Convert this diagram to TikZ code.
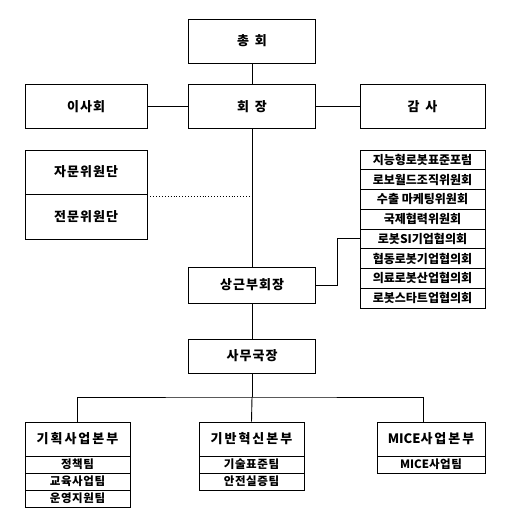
\documentclass[tikz,border=0pt]{standalone}
\usepackage{fontspec}
\newfontfamily\kr{Noto Sans CJK KR}
\usetikzlibrary{positioning}
\tikzset{
  unit/.style={draw, line width=0.9pt, minimum width=127pt, minimum height=44pt, inner sep=0pt,
    font=\kr\bfseries\fontsize{13}{15}\selectfont\addfontfeature{LetterSpace=8}},
  wide/.style={font=\kr\bfseries\fontsize{13}{15}\selectfont\addfontfeature{LetterSpace=45}},
  head/.style={unit, minimum width=105pt, minimum height=34pt,
    font=\kr\bfseries\fontsize{13}{15}\selectfont\addfontfeature{LetterSpace=15}},
  item/.style={draw, line width=0.9pt, minimum width=125pt, minimum height=19.75pt, inner sep=0pt,
    font=\kr\bfseries\fontsize{12}{14}\selectfont},
  team/.style={item, minimum width=105pt, minimum height=17pt,
    font=\kr\bfseries\fontsize{11.5}{13}\selectfont\addfontfeature{LetterSpace=5}},
  line/.style={line width=0.9pt}
}
\newcommand\tight[1]{{\addfontfeature{LetterSpace=0}#1}}
\begin{document}
\begin{tikzpicture}[x=1pt,y=-1pt]
  \useasboundingbox (0,0) rectangle (524,526);
  % top levels
  \node[unit, wide] (chonghoe) at (252,41) {총회};
  \node[unit, wide] (hoejang) at (252,106.5) {회장};
  \node[unit, minimum width=122pt] (isahoe) at (86,106.5) {이사회};
  \node[unit, wide, minimum width=125pt] (gamsa) at (422.5,106.5) {감사};
  \node[unit, minimum width=122pt] (jamun) at (86,172) {자문위원단};
  \node[unit, minimum width=122pt, minimum height=45pt] (jeonmun) at (86,216.5) {전문위원단};
  \node[unit, minimum height=36pt] (sanggeun) at (252,285) {상근부회장};
  \node[unit, minimum height=34pt] (samu) at (252,356) {사무국장};
  % committees
  \foreach \t [count=\i] in {지능형로봇표준포럼, 로보월드조직위원회, 수출 마케팅위원회, 국제협력위원회,
      로봇SI기업협의회, 협동로봇기업협의회, 의료로봇산업협의회, 로봇스타트업협의회}
    \node[item] (c\i) at (422.5,{140.125+19.75*\i}) {\t};
  % divisions
  \node[head] (plan) at (77.5,439) {기획사업본부};
  \node[head] (giban) at (251.5,439) {기반혁신본부};
  \node[head, minimum width=108pt] (mice) at (431,439) {\tight{MICE}사업본부};
  \foreach \t [count=\i] in {정책팀, 교육사업팀, 운영지원팀}
    \node[team] (p\i) at (77.5,{447.5+17*\i}) {\t};
  \foreach \t [count=\i] in {기술표준팀, 안전실증팀}
    \node[team] (g\i) at (251.5,{447.5+17*\i}) {\t};
  \node[team, minimum width=108pt] (m1) at (431,464.5) {\tight{MICE}사업팀};
  % connectors
  \coordinate (bus) at (252,397);
  \draw[line] (chonghoe) -- (hoejang) -- (sanggeun) -- (samu) -- (bus);
  \draw[line] (isahoe) -- (hoejang) -- (gamsa);
  \draw[line, dotted] ([yshift=-2pt]jamun.south east) -- ([yshift=-2pt]jamun.south east -| hoejang);
  \draw[line] (sanggeun.east) -- +(21,0) |- (c5.west);
  \draw[line] (plan.north) |- (bus) -| ([xshift=-8pt]mice.north);
  \draw[line] (bus) -- (giban.north);
\end{tikzpicture}
\end{document}
